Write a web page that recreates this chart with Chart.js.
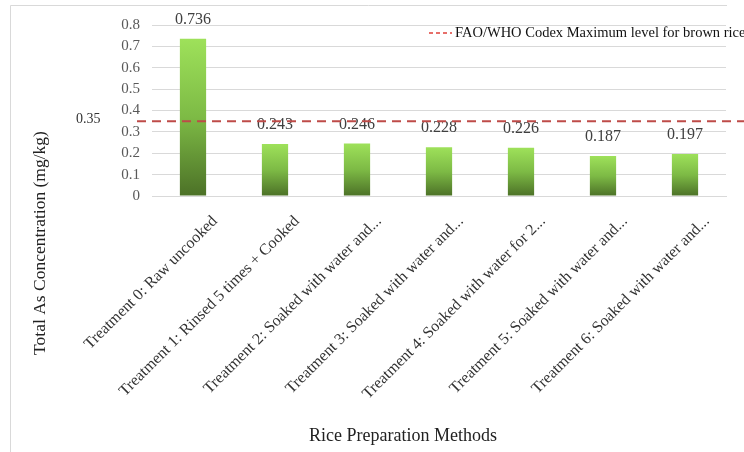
<!DOCTYPE html>
<html>
<head>
<meta charset="utf-8">
<script src="https://cdn.jsdelivr.net/npm/chart.js@4.4.1/dist/chart.umd.min.js"></script>
<style>
  html, body { margin: 0; padding: 0; background: #fff; }
  #wrap { position: relative; width: 744px; height: 452px; }
</style>
</head>
<body>
<div id="wrap"><canvas id="riceChart"></canvas></div>
<script>
const categories = [
  'Treatment 0: Raw uncooked',
  'Treatment 1: Rinsed 5 times + Cooked',
  'Treatment 2: Soaked with water and...',
  'Treatment 3: Soaked with water and...',
  'Treatment 4: Soaked with water for 2...',
  'Treatment 5: Soaked with water and...',
  'Treatment 6: Soaked with water and...'
];
const concentrations = [0.736, 0.243, 0.246, 0.228, 0.226, 0.187, 0.197];
const yMax = 0.8;
const yStep = 0.1;
const limitValue = 0.35;
const limitLabel = 'FAO/WHO Codex Maximum level for brown rice';
const xTitle = 'Rice Preparation Methods';
const yTitle = 'Total As Concentration (mg/kg)';

const serif = '"Liberation Serif", "DejaVu Serif", serif';
const ctx = document.getElementById('riceChart').getContext('2d');

function barGradient(context) {
  const chart = context.chart;
  const y = chart.scales.y;
  if (!chart.chartArea || !y || context.raw === undefined) return '#7cc04a';
  const top = y.getPixelForValue(context.raw);
  const base = y.getPixelForValue(0);
  if (!isFinite(top) || !isFinite(base) || top === base) return '#7cc04a';
  const g = chart.ctx.createLinearGradient(0, top, 0, base);
  g.addColorStop(0, '#9ee15a');
  g.addColorStop(0.5, '#7dba45');
  g.addColorStop(1, '#4c7127');
  return g;
}

const extras = {
  id: 'extras',
  afterDatasetsDraw(chart) {
    const c = chart.ctx;
    const y = chart.scales.y;
    const meta = chart.getDatasetMeta(0);

    // value labels above the bars
    c.save();
    c.font = '16px ' + serif;
    c.fillStyle = '#404040';
    c.textAlign = 'center';
    c.textBaseline = 'middle';
    meta.data.forEach((bar, i) => {
      c.fillText(concentrations[i].toFixed(3), bar.x, bar.y - 19);
    });
    c.restore();

    // limit line
    const ly = y.getPixelForValue(limitValue);
    c.save();
    c.strokeStyle = '#be4b48';
    c.lineWidth = 2;
    c.setLineDash([9, 6]);
    c.beginPath();
    c.moveTo(137, ly);
    c.lineTo(chart.width, ly);
    c.stroke();
    c.restore();

    c.save();
    c.font = '14px ' + serif;
    c.fillStyle = '#333';
    c.textAlign = 'left';
    c.textBaseline = 'middle';
    c.fillText(limitValue.toFixed(2), 76, ly - 2);
    c.restore();
  },
  afterDraw(chart) {
    const c = chart.ctx;
    const area = chart.chartArea;

    // outer frame (top and left)
    c.save();
    c.strokeStyle = '#d9d9d9';
    c.lineWidth = 1;
    c.beginPath();
    c.moveTo(10.5, chart.height);
    c.lineTo(10.5, 5.5);
    c.lineTo(area.right + 1, 5.5);
    c.stroke();
    c.restore();

    // legend
    c.save();
    c.strokeStyle = '#e0403a';
    c.lineWidth = 1.5;
    c.setLineDash([4, 3]);
    c.beginPath();
    c.moveTo(429, 33);
    c.lineTo(452, 33);
    c.stroke();
    c.setLineDash([]);
    c.font = '14.5px ' + serif;
    c.fillStyle = '#111';
    c.textAlign = 'left';
    c.textBaseline = 'middle';
    c.fillText(limitLabel, 455, 33);
    c.restore();

    // axis titles
    c.save();
    c.fillStyle = '#222';
    c.textAlign = 'center';
    c.textBaseline = 'middle';
    c.font = '18px ' + serif;
    c.fillText(xTitle, 403, 436);
    c.font = '17.5px ' + serif;
    c.translate(40, 243);
    c.rotate(-Math.PI / 2);
    c.fillText(yTitle, 0, 0);
    c.restore();
  }
};

new Chart(ctx, {
  type: 'bar',
  data: {
    labels: categories,
    datasets: [
      {
        label: 'Total As',
        data: concentrations,
        backgroundColor: barGradient,
        borderWidth: 0,
        categoryPercentage: 1,
        barPercentage: 0.32
      }
    ]
  },
  options: {
    responsive: true,
    maintainAspectRatio: false,
    animation: false,
    layout: { padding: { top: 25, right: 18, left: 0, bottom: 0 } },
    plugins: {
      legend: { display: false },
      tooltip: { enabled: false }
    },
    scales: {
      x: {
        grid: { display: false, drawTicks: false },
        border: { color: '#d9d9d9', width: 1 },
        ticks: {
          color: '#333',
          font: { family: serif, size: 16 },
          minRotation: 45,
          maxRotation: 45,
          autoSkip: false,
          padding: 16,
          labelOffset: 22
        },
        afterFit: scale => { scale.height = 452 - 196; }
      },
      y: {
        min: 0,
        max: yMax,
        grid: { color: '#d9d9d9', drawTicks: false },
        border: { display: false },
        ticks: {
          stepSize: yStep,
          color: '#595959',
          font: { family: serif, size: 15 },
          padding: 12,
          callback: v => String(Number(v.toFixed(1)))
        },
        afterFit: scale => { scale.width = 152; }
      }
    }
  },
  plugins: [extras]
});
</script>
</body>
</html>
